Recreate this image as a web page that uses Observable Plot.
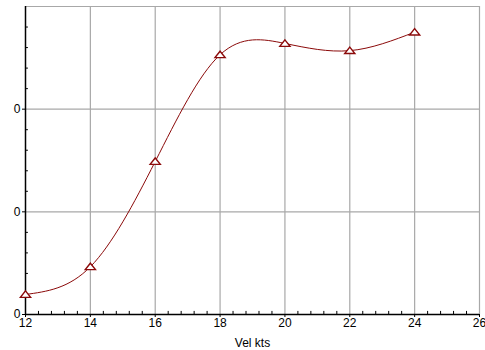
<!DOCTYPE html>
<html><head><meta charset="utf-8">
<script src="https://cdn.jsdelivr.net/npm/d3@7"></script>
<script src="https://cdn.jsdelivr.net/npm/@observablehq/plot@0.6"></script>
<style>body{margin:0;background:#fff}</style>
</head><body><div id="chart"></div>
<script>
const speeds = [12, 14, 16, 18, 20, 22, 24];
const values = [0.0195, 0.0465, 0.149, 0.253, 0.264, 0.257, 0.275];
const xTicks = [12, 14, 16, 18, 20, 22, 24, 26];
const xGrid = [14, 16, 18, 20, 22, 24, 26];
const xMinor = d3.range(12, 26.001, 0.4).filter(v => Math.abs(v / 2 - Math.round(v / 2)) > 0.01);
const yTicks = [0, 0.1, 0.2];
const yGrid = [0.1, 0.2, 0.3];
const yMinor = d3.range(0, 0.3001, 0.02).filter(v => Math.abs(v * 10 - Math.round(v * 10)) > 0.01);
const xLabel = "Vel kts";

const data = speeds.map((s, i) => ({s, v: values[i]}));

// flat triangle marker
const flatTriangle = {
  draw(ctx, size) {
    const k = Math.sqrt(size) / 8;
    ctx.moveTo(0, -3.2 * k);
    ctx.lineTo(4.6 * k, 2.6 * k);
    ctx.lineTo(-4.6 * k, 2.6 * k);
    ctx.closePath();
  }
};

const chart = Plot.plot({
  width: 485, height: 350,
  marginLeft: 25, marginRight: 6, marginTop: 6, marginBottom: 36,
  style: {fontFamily: "'Liberation Sans', Arial, sans-serif", fontSize: "12px", background: "#fff", color: "#000"},
  x: {domain: [12, 26]},
  y: {domain: [0, 0.3]},
  marks: [
    Plot.ruleX(xGrid, {stroke: "#a8a8a8", strokeWidth: 1.2}),
    Plot.ruleY(yGrid, {stroke: "#a8a8a8", strokeWidth: 1.2}),
    Plot.ruleX(xMinor, {y1: 0, y2: 0.003, stroke: "#000"}),
    Plot.ruleY(yMinor, {x1: 12, x2: 12.09, stroke: "#000"}),
    Plot.axisX({ticks: xTicks, tickSize: 3, tickPadding: 1, tickFormat: d => String(d), label: xLabel, labelAnchor: "center", labelArrow: "none", labelOffset: 32}),
    Plot.axisY({ticks: yTicks, tickSize: 3, tickPadding: 2, tickFormat: () => "0", label: null}),
    Plot.ruleX([12], {stroke: "#000", strokeWidth: 1.5}),
    Plot.ruleY([0], {stroke: "#000", strokeWidth: 1.5}),
    Plot.line(data, {x: "s", y: "v", curve: "natural", stroke: "#8b0a0a", strokeWidth: 1}),
    Plot.dot(data, {x: "s", y: "v", symbol: flatTriangle, r: 5, stroke: "#8b0a0a", fill: "#fff", strokeWidth: 1.4})
  ]
});
document.getElementById("chart").append(chart);
</script>
</body></html>
